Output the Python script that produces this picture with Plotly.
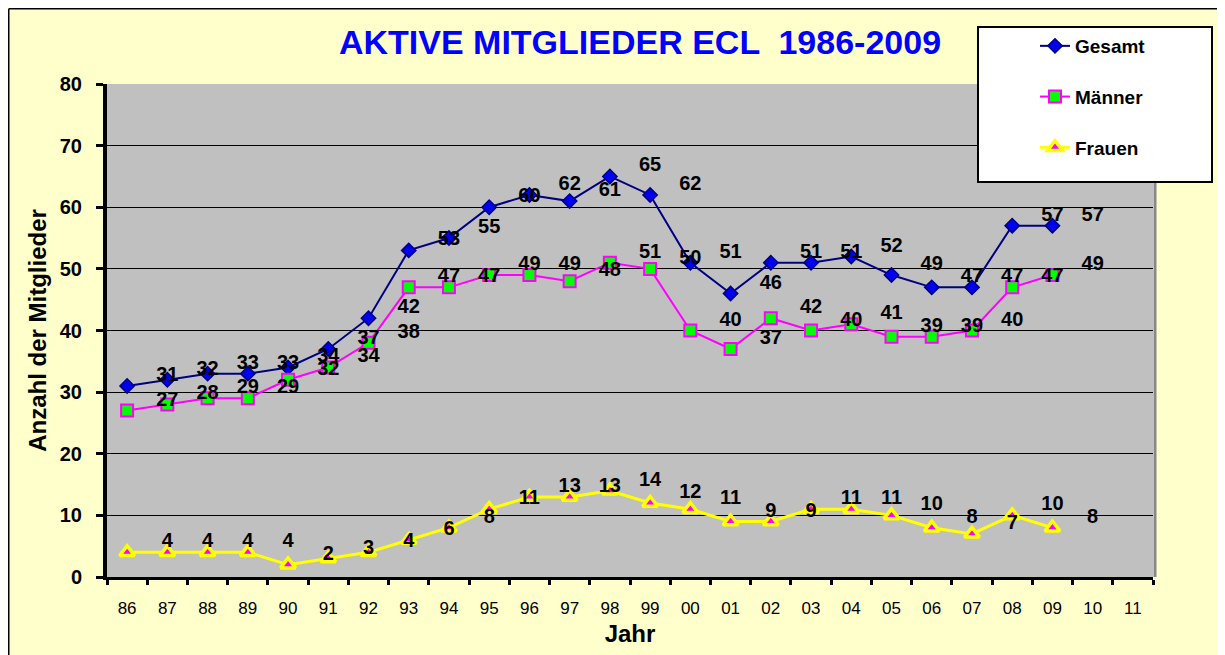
import plotly.graph_objects as go

# ---- data ----
years = ["86", "87", "88", "89", "90", "91", "92", "93", "94", "95", "96", "97", "98",
         "99", "00", "01", "02", "03", "04", "05", "06", "07", "08", "09", "10", "11"]
data_years = years[:24]          # 86 .. 09
label_years = years[1:25]        # labels in the original sit one category to the right

gesamt = [31, 32, 33, 33, 34, 37, 42, 53, 55, 60, 62, 61, 65, 62, 51, 46, 51, 51, 52, 49, 47, 47, 57, 57]
maenner = [27, 28, 29, 29, 32, 34, 38, 47, 47, 49, 49, 48, 51, 50, 40, 37, 42, 40, 41, 39, 39, 40, 47, 49]
frauen = [4, 4, 4, 4, 2, 3, 4, 6, 8, 11, 13, 13, 14, 12, 11, 9, 9, 11, 11, 10, 8, 7, 10, 8]

title_text = "AKTIVE MITGLIEDER ECL  1986-2009"
y_title = "Anzahl der Mitglieder"
x_title = "Jahr"

# ---- layout geometry (figure sits 8px inside the page because of body margin) ----
OX, OY = 8, 8
W, H = 1225 - OX, 655 - OY
L, R, T, B = 107 - OX, 1225 - 1153, 84 - OY, 655 - 577
PW, PH = W - L - R, H - T - B


def px_x(x):
    """page pixel x -> paper coordinate"""
    return (x - OX - L) / PW


def px_y(y):
    """page pixel y -> paper coordinate"""
    return (H - B - (y - OY)) / PH


FONT = "Liberation Sans, Arial, sans-serif"
YELLOW_BG = "#FFFFCC"

fig = go.Figure()

fig.add_trace(go.Scatter(
    x=data_years, y=gesamt, name="Gesamt", mode="lines+markers",
    line=dict(color="#000080", width=2),
    marker=dict(symbol="diamond", size=11, color="#0000EE", line=dict(color="#000080", width=1.5)),
    legendgroup="g1"))
fig.add_trace(go.Scatter(
    x=data_years, y=maenner, name="Männer", mode="lines+markers",
    line=dict(color="#FF00FF", width=2),
    marker=dict(symbol="square", size=12, color="#00FF00", line=dict(color="#FF00FF", width=2)),
    legendgroup="g2"))
fig.add_trace(go.Scatter(
    x=data_years, y=frauen, name="Frauen", mode="lines+markers",
    line=dict(color="#FFFF00", width=3),
    marker=dict(symbol="triangle-up", size=13, color="#FF00FF", line=dict(color="#FFFF00", width=3.5)),
    legendgroup="g3"))

for vals in (gesamt, maenner, frauen):
    fig.add_trace(go.Scatter(
        x=label_years, y=vals, mode="text", text=[str(v) for v in vals],
        textposition="top center",
        textfont=dict(family=FONT, size=20, color="black", weight="bold"),
        showlegend=False, hoverinfo="skip"))

shapes = [
    # black frame on left and top edge
    dict(type="line", xref="paper", yref="paper", x0=px_x(8.75), x1=px_x(1230),
         y0=px_y(8.75), y1=px_y(8.75), line=dict(color="black", width=1.5)),
    dict(type="line", xref="paper", yref="paper", x0=px_x(8.75), x1=px_x(8.75),
         y0=px_y(8.75), y1=px_y(660), line=dict(color="black", width=1.5)),
    # plot area right shadow
    dict(type="line", xref="paper", yref="paper", x0=px_x(1155), x1=px_x(1155),
         y0=0, y1=1, line=dict(color="#888888", width=3)),
    # legend box
    dict(type="rect", xref="paper", yref="paper", x0=px_x(978), x1=px_x(1212),
         y0=px_y(182), y1=px_y(27), fillcolor="white", line=dict(color="black", width=2)),
]

fig.update_layout(
    width=W, height=H,
    margin=dict(l=L, r=R, t=T, b=B),
    paper_bgcolor=YELLOW_BG, plot_bgcolor="#C0C0C0",
    font=dict(family=FONT, color="black"),
    title=dict(text=title_text, x=(640 - OX) / W, xanchor="center", y=1 - (42 - OY) / H, yanchor="middle",
               font=dict(family=FONT, size=34, color="#0000FF", weight="bold")),
    xaxis=dict(type="category", categoryorder="array", categoryarray=years,
               range=[-0.5, len(years) - 0.5], showgrid=False,
               showline=True, linecolor="black", linewidth=3,
               ticks="outside", tickson="boundaries", ticklen=5, tickwidth=3, tickcolor="black",
               ticklabelstandoff=14,
               tickfont=dict(family=FONT, size=17, color="black"),
               title=dict(text=x_title, standoff=8,
                          font=dict(family=FONT, size=24, color="black", weight="bold"))),
    yaxis=dict(range=[0, 80], dtick=10, showgrid=True, gridcolor="black", gridwidth=1,
               zeroline=False, showline=True, linecolor="black", linewidth=4,
               ticks="outside", ticklen=7, tickwidth=3, tickcolor="black",
               ticklabelstandoff=10,
               tickfont=dict(family=FONT, size=20, color="black", weight="bold"),
               title=dict(text=y_title, standoff=7,
                          font=dict(family=FONT, size=24, color="black", weight="bold"))),
    legend=dict(x=px_x(1035), y=px_y(27), xanchor="left", yanchor="top",
                bgcolor="rgba(0,0,0,0)", borderwidth=0, tracegroupgap=23,
                font=dict(family=FONT, size=19, color="black", weight="bold")),
    shapes=shapes,
    showlegend=True,
)

fig.write_html("out.html")
